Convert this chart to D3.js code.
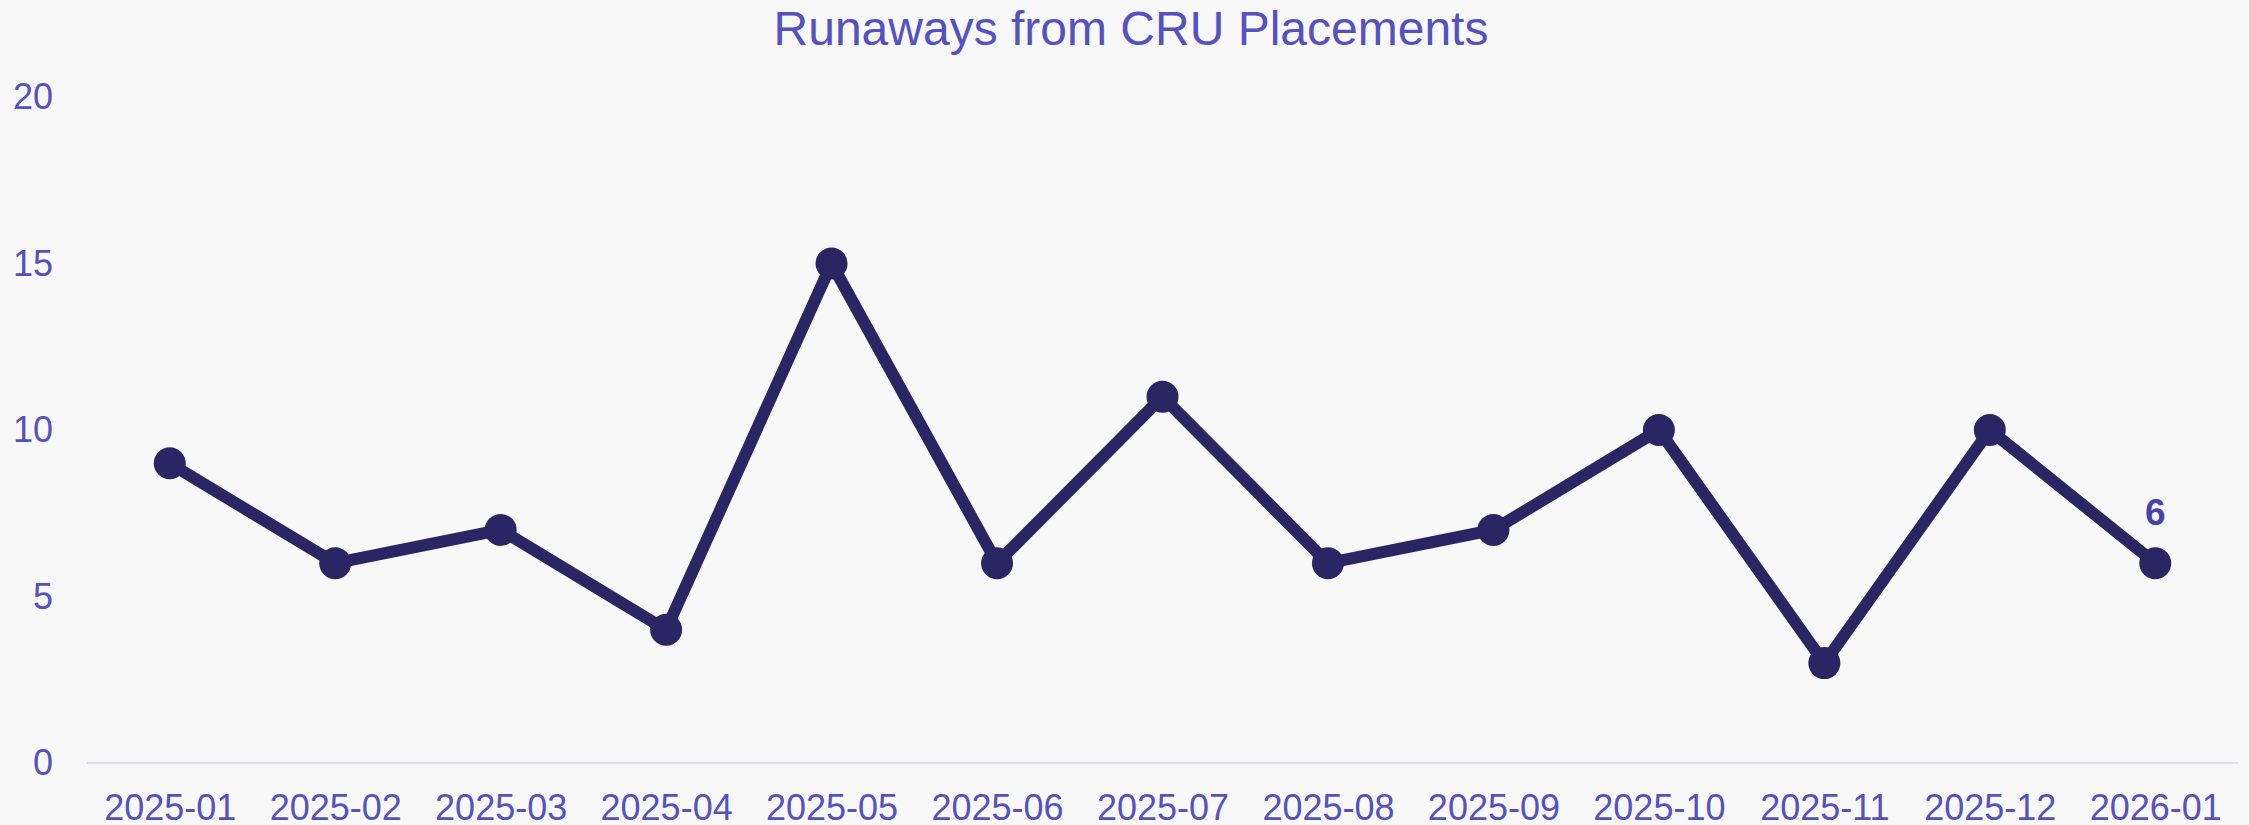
<!DOCTYPE html>
<html>
<head>
<meta charset="utf-8">
<script src="https://cdn.jsdelivr.net/npm/d3@7"></script>
<style>
  html, body { margin: 0; padding: 0; background: #f8f8f8; }
  svg { display: block; font-family: "Liberation Sans", Arial, sans-serif; }
</style>
</head>
<body>
<div class="chart"></div>
<script>
const W = 2249, H = 825;
const margin = { top: 97, right: 11, bottom: 62, left: 87 };

// data
const months = ["2025-01", "2025-02", "2025-03", "2025-04", "2025-05", "2025-06", "2025-07",
  "2025-08", "2025-09", "2025-10", "2025-11", "2025-12", "2026-01"];
const runaways = [9, 6, 7, 4, 15, 6, 11, 6, 7, 10, 3, 10, 6];
const yTicks = [0, 5, 10, 15, 20];

const svg = d3.select(".chart").append("svg")
  .attr("width", W)
  .attr("height", H);

svg.append("rect").attr("width", W).attr("height", H).attr("fill", "#f8f8f8");

const x = d3.scalePoint()
  .domain(months)
  .range([margin.left, W - margin.right])
  .padding(0.5);

const y = d3.scaleLinear()
  .domain([0, 20])
  .range([H - margin.bottom, margin.top]);

// title
svg.append("text")
  .attr("x", 1131)
  .attr("y", 45)
  .attr("text-anchor", "middle")
  .style("font-size", "48px")
  .style("fill", "#5551bf")
  .text("Runaways from CRU Placements");

// y axis labels (no line, no ticks)
const yAxis = svg.append("g")
  .attr("transform", "translate(53,0)")
  .call(d3.axisLeft(y).tickValues(yTicks).tickSize(0).tickPadding(0));
yAxis.select(".domain").remove();
yAxis.selectAll("text")
  .style("font-size", "36px")
  .style("font-family", "'Liberation Sans', Arial, sans-serif")
  .attr("fill", "#5551bf");

// baseline at zero
svg.append("line")
  .attr("x1", margin.left)
  .attr("x2", W - margin.right)
  .attr("y1", y(0))
  .attr("y2", y(0))
  .attr("stroke", "#dcdcf0")
  .attr("stroke-width", 2);

// x axis labels
const xAxis = svg.append("g")
  .attr("transform", "translate(0," + y(0) + ")")
  .call(d3.axisBottom(x).tickSize(0).tickPadding(31));
xAxis.select(".domain").remove();
xAxis.selectAll("text")
  .style("font-size", "36px")
  .style("font-family", "'Liberation Sans', Arial, sans-serif")
  .attr("fill", "#5551bf");

const pts = months.map(function (m, i) { return { m: m, v: runaways[i] }; });

const line = d3.line()
  .x(function (d) { return x(d.m); })
  .y(function (d) { return y(d.v); });

svg.append("path")
  .datum(pts)
  .attr("d", line)
  .attr("fill", "none")
  .attr("stroke", "#292663")
  .attr("stroke-width", 12)
  .attr("stroke-linejoin", "round");

svg.append("g").selectAll("circle")
  .data(pts)
  .enter().append("circle")
  .attr("cx", function (d) { return x(d.m); })
  .attr("cy", function (d) { return y(d.v); })
  .attr("r", 16)
  .attr("fill", "#292663");

// last value label
const last = pts[pts.length - 1];
svg.append("text")
  .attr("x", x(last.m))
  .attr("y", y(last.v) - 38)
  .attr("text-anchor", "middle")
  .style("font-size", "37px")
  .style("font-weight", "bold")
  .style("fill", "#4643a8")
  .text(last.v);
</script>
</body>
</html>
